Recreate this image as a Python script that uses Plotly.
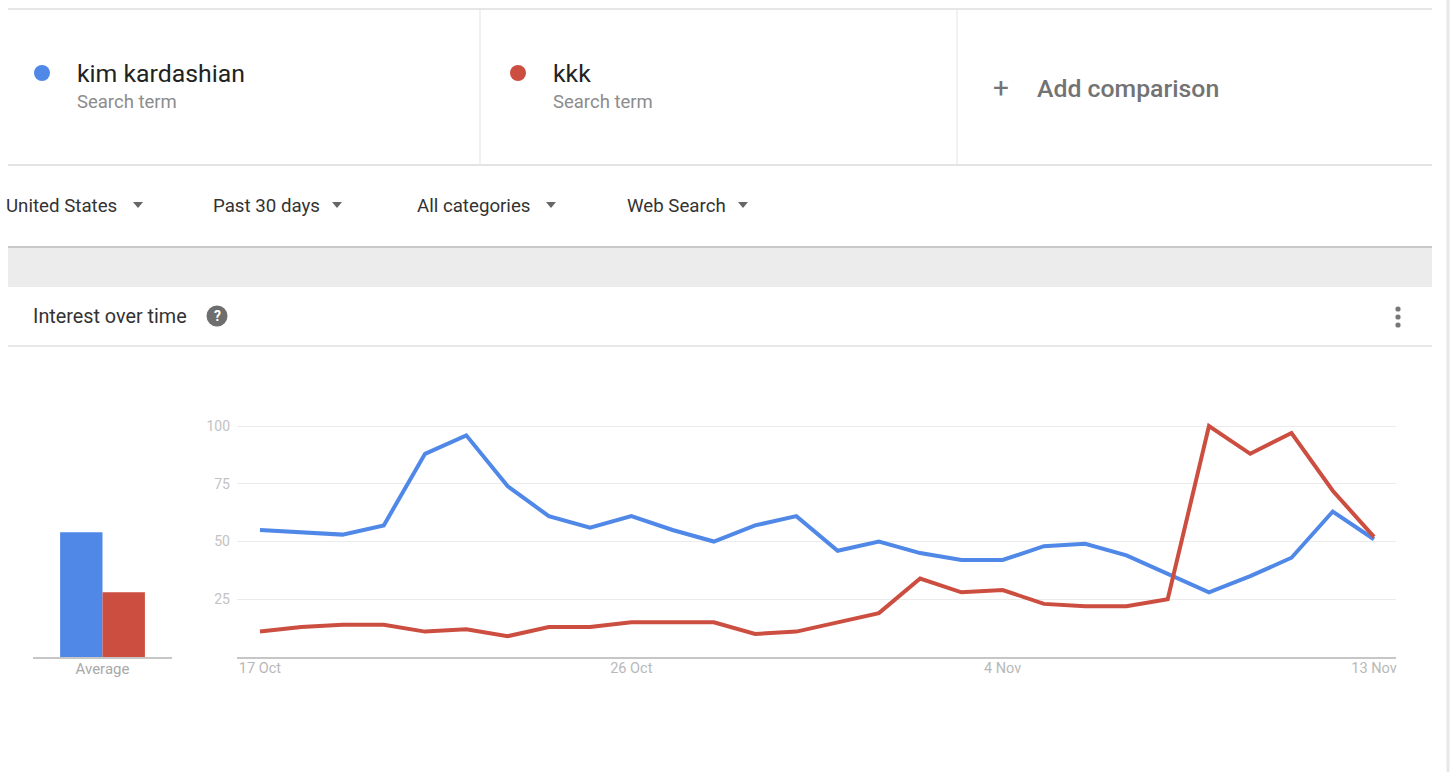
import plotly.graph_objects as go
import pandas as pd

W, H = 1450, 772

# ---------------- data ----------------
dates = pd.date_range("2016-10-17", "2016-11-13", freq="D")
kim_kardashian = [55, 54, 53, 57, 88, 96, 74, 61, 56, 61, 55, 50, 57, 61, 46, 50,
                  45, 42, 42, 48, 49, 44, 36, 28, 35, 43, 63, 51]
kkk = [11, 13, 14, 14, 11, 12, 9, 13, 13, 15, 15, 15, 10, 11, 15, 19,
       34, 28, 29, 23, 22, 22, 25, 100, 88, 97, 72, 52]
average_label = ["Average"]
kim_average = [54]
kkk_average = [28]
tick_dates = ["2016-10-17", "2016-10-26", "2016-11-04", "2016-11-13"]
tick_text = ["17 Oct", "26 Oct", "4 Nov", "13 Nov"]
y_tick_vals = [25, 50, 75, 100]
terms = ["kim kardashian", "kkk"]
term_subtitle = "Search term"
filters = ["United States", "Past 30 days", "All categories", "Web Search"]
section_title = "Interest over time"

BLUE = "#5088e8"
RED = "#cc4e40"
FONT = "Roboto"


def px(x):
    return x / W


def py(y):
    return 1 - y / H


fig = go.Figure()

# average bars
fig.add_trace(go.Bar(x=average_label, y=kim_average, name=terms[0], marker_color=BLUE,
                     marker_line_width=0, xaxis="x", yaxis="y", showlegend=False))
fig.add_trace(go.Bar(x=average_label, y=kkk_average, name=terms[1], marker_color=RED,
                     marker_line_width=0, xaxis="x", yaxis="y", showlegend=False))

# lines
fig.add_trace(go.Scatter(x=dates, y=kim_kardashian, mode="lines", name=terms[0],
                         line=dict(color=BLUE, width=4), xaxis="x2", yaxis="y2",
                         showlegend=False))
fig.add_trace(go.Scatter(x=dates, y=kkk, mode="lines", name=terms[1],
                         line=dict(color=RED, width=4), xaxis="x2", yaxis="y2",
                         showlegend=False))

ydom = [py(657), py(403)]
day = pd.Timedelta(days=1)
x_start = dates[0] - day * 0.557
x_end = dates[-1] + day * 0.533

fig.update_layout(
    width=W, height=H,
    margin=dict(l=0, r=0, t=0, b=0),
    paper_bgcolor="white", plot_bgcolor="white",
    font=dict(family=FONT),
    barmode="group", bargap=0.39, bargroupgap=0,
    xaxis=dict(domain=[px(33), px(172)], showline=True, linecolor="#c6c6c6", linewidth=2,
               showgrid=False, zeroline=False, ticks="", ticklabelstandoff=-3,
               tickfont=dict(size=15, color="#a9a9a9", family=FONT),
               fixedrange=True),
    yaxis=dict(domain=ydom, range=[0, 110], showgrid=False, zeroline=False,
               showticklabels=False, showline=False, fixedrange=True),
    xaxis2=dict(domain=[px(237), px(1396)], range=[x_start, x_end], anchor="y2",
                showline=True, linecolor="#c6c6c6", linewidth=2, showgrid=False,
                zeroline=False, ticks="", tickvals=tick_dates, ticktext=tick_text,
                ticklabelstandoff=-3,
                tickfont=dict(size=14.5, color="#b8b8b8", family=FONT), fixedrange=True),
    yaxis2=dict(domain=ydom, range=[0, 110], anchor="x2", showgrid=True,
                gridcolor="#ebebeb", gridwidth=1, zeroline=False, showline=False,
                tickvals=y_tick_vals, ticks="", ticklabelstandoff=6,
                tickfont=dict(size=14, color="#c2c2c2", family=FONT), fixedrange=True),
)

shapes = []
annotations = []


def hline(y, x0, x1, color, width=1):
    shapes.append(dict(type="line", xref="paper", yref="paper", x0=px(x0), x1=px(x1),
                       y0=py(y), y1=py(y), line=dict(color=color, width=width)))


def vline(x, y0, y1, color, width=1):
    shapes.append(dict(type="line", xref="paper", yref="paper", x0=px(x), x1=px(x),
                       y0=py(y0), y1=py(y1), line=dict(color=color, width=width)))


def circle(cx, cy, r, color):
    shapes.append(dict(type="circle", xref="paper", yref="paper",
                       x0=px(cx - r), x1=px(cx + r), y0=py(cy + r), y1=py(cy - r),
                       fillcolor=color, line=dict(width=0)))


def text(x, y, s, size, color, anchor="left", weight="normal"):
    annotations.append(dict(xref="paper", yref="paper", x=px(x), y=py(y), text=s,
                            showarrow=False, xanchor=anchor, yanchor="middle",
                            font=dict(size=size, color=color, family=FONT, weight=weight)))


def triangle(cx, cy, w=10, h=6, color="#666666"):
    path = "M {} {} L {} {} L {} {} Z".format(px(cx - w / 2), py(cy - h / 2),
                                             px(cx + w / 2), py(cy - h / 2),
                                             px(cx), py(cy + h / 2))
    shapes.append(dict(type="path", xref="paper", yref="paper", path=path,
                       fillcolor=color, line=dict(width=0)))


# page frame
hline(9, 8, 1432, "#e6e6e6", 2)
vline(480, 9, 165, "#e3e3e3", 1)
vline(957, 9, 165, "#e3e3e3", 1)
hline(165, 8, 1432, "#e3e3e3", 2)
vline(1448, 0, 772, "#e8e8e8", 3)

# search terms
circle(42, 73, 8, BLUE)
text(75, 73, terms[0], 24.8, "#222222")
text(75, 102, term_subtitle, 18.5, "#8c8c8c")
circle(518, 73, 8, RED)
text(551, 73, terms[1], 24.8, "#222222")
text(551, 102, term_subtitle, 18.5, "#8c8c8c")
text(991, 88, "+", 28, "#757575")
text(1035, 89, "Add comparison", 24.8, "#737373", weight=500)

# filters
filter_x = [4, 211, 415, 625]
arrow_x = [138, 337, 551, 743]
for fx, ax, f in zip(filter_x, arrow_x, filters):
    text(fx, 206, f, 18.7, "#333333")
    triangle(ax, 205)

# gray band
shapes.append(dict(type="rect", xref="paper", yref="paper", x0=px(8), x1=px(1432),
                   y0=py(287), y1=py(246), fillcolor="#ececec", line=dict(width=0),
                   layer="below"))
hline(247, 8, 1432, "#c9c9c9", 2)

# section header
text(31, 316, section_title, 19.8, "#333333")
circle(217, 316, 10.5, "#6e6e6e")
text(217, 316, "?", 14, "white", anchor="center", weight="bold")
for dy in (-8, 0, 8):
    circle(1398, 317 + dy, 2.6, "#777777")
hline(346, 8, 1432, "#e8e8e8", 2)

fig.update_layout(shapes=shapes, annotations=annotations)

fig.write_html("out.html", include_plotlyjs=True, config={"displayModeBar": False},
               post_script="document.body.style.margin='0';document.body.style.overflow='hidden';")
